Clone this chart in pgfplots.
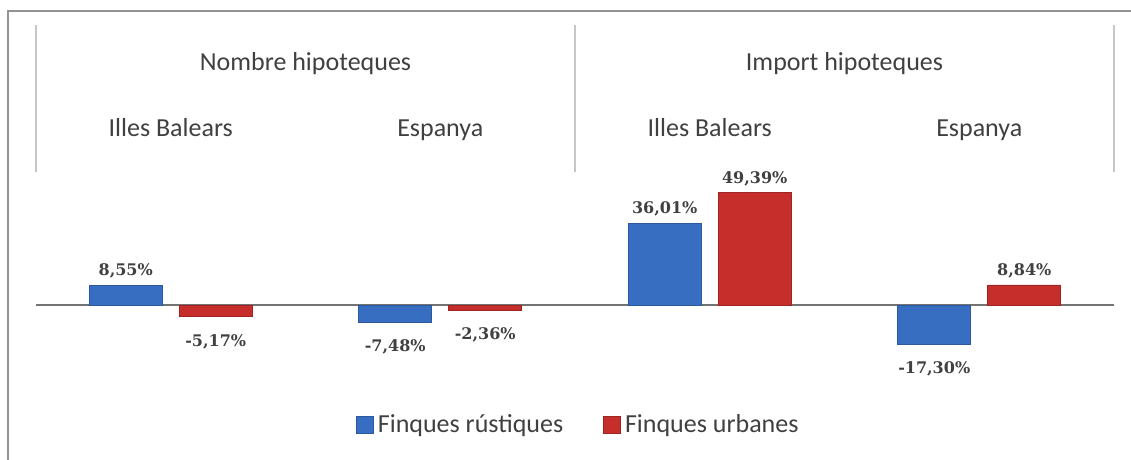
\documentclass[border=0pt]{standalone}
\usepackage{pgfplots}
\pgfplotsset{compat=1.18}
\usepackage{pgfplotstable}
\usepackage{fontspec}
\setmainfont{Carlito}
\newfontfamily\valfont{DejaVu Serif}
\definecolor{barblue}{RGB}{56,110,194}
\definecolor{barred}{RGB}{198,46,44}
\definecolor{txt}{RGB}{64,64,64}

\pgfplotstableread{
x y lab
0 8.55 8,55
1 -7.48 -7,48
2 36.01 36,01
3 -17.30 -17,30
}\rustiques
\pgfplotstableread{
x y lab
0 -5.17 -5,17
1 -2.36 -2,36
2 49.39 49,39
3 8.84 8,84
}\urbanes

\begin{document}
\begin{tikzpicture}[x=1pt,y=1pt]
\path[use as bounding box] (0,0) rectangle (565.5,230);
\draw[gray!85, line width=1pt] (4,-2) -- (4,224.5) -- (567,224.5);
\begin{axis}[
  at={(18pt,32.5pt)}, anchor=south west,
  scale only axis, width=539pt, height=185pt,
  xmin=-0.5, xmax=3.5, ymin=-39.6, ymax=123.3,
  axis lines=none, clip=false,
  ybar, bar width=0.27,
  nodes near coords={\pgfplotspointmeta\%},
  point meta=explicit symbolic,
  visualization depends on={rawy \as \rawy},
  every node near coord/.append style={anchor=south, font=\valfont\bfseries\fontsize{8}{9}\selectfont, text=txt, yshift={-19.5*(\rawy<0)}},
  legend style={at={(axis description cs:0.504,-0.081)}, anchor=center, draw=none, fill=none,
    legend columns=2, font=\fontsize{13}{15}\selectfont, text=txt,
    /tikz/every even column/.append style={column sep=18pt}},
  legend image code/.code={\fill[#1] (0pt,-4.25pt) rectangle (8.5pt,4.25pt);},
]
\draw[gray!110, line width=0.7pt] (axis cs:-0.5,0) -- (axis cs:3.5,0);
\addplot[fill=barblue, draw=barblue!80!black, bar shift=-0.167] table[x=x, y=y, meta=lab] {\rustiques};
\addplot[fill=barred, draw=barred!80!black, bar shift=0.167] table[x=x, y=y, meta=lab] {\urbanes};
\legend{Finques rústiques, Finques urbanes}
\foreach \xx in {-0.5,1.5,3.5} {
  \edef\tmp{\noexpand\draw[gray!45, line width=1pt] (axis cs:\xx,58.6) -- (axis cs:\xx,123.3);}
  \tmp
}
\node[anchor=base, text=txt, font=\fontsize{13}{15}\selectfont] at (axis cs:0.5,103.1) {Nombre hipoteques};
\node[anchor=base, text=txt, font=\fontsize{13}{15}\selectfont] at (axis cs:2.5,103.1) {Import hipoteques};
\node[anchor=base, text=txt, font=\fontsize{13}{15}\selectfont] at (axis cs:0,74.0) {Illes Balears};
\node[anchor=base, text=txt, font=\fontsize{13}{15}\selectfont] at (axis cs:1,74.0) {Espanya};
\node[anchor=base, text=txt, font=\fontsize{13}{15}\selectfont] at (axis cs:2,74.0) {Illes Balears};
\node[anchor=base, text=txt, font=\fontsize{13}{15}\selectfont] at (axis cs:3,74.0) {Espanya};
\end{axis}
\end{tikzpicture}
\end{document}
